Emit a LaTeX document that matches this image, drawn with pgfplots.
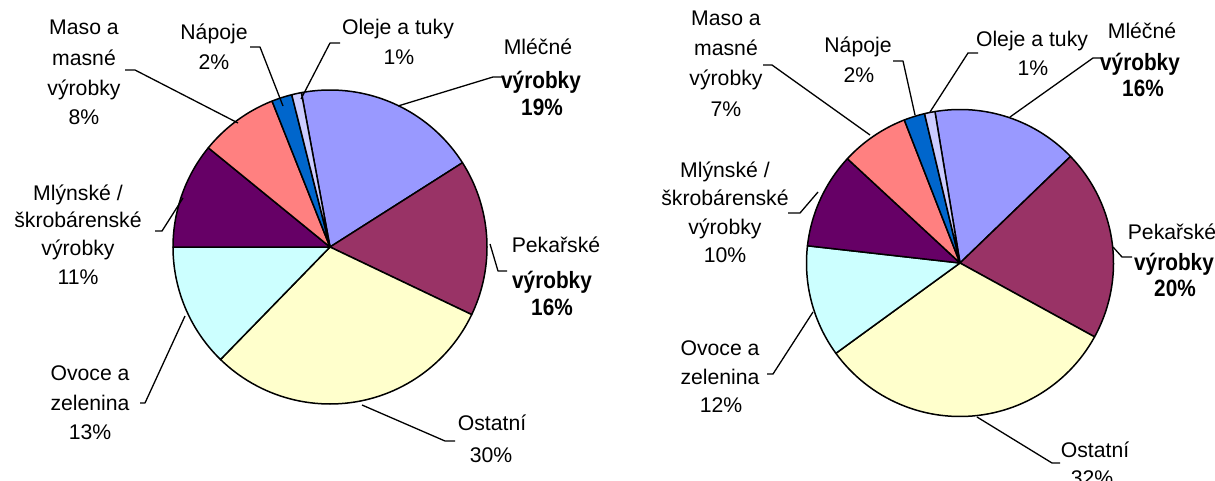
\documentclass[border=0pt]{standalone}
\usepackage{fontspec}
\setmainfont{Liberation Sans}
\newfontfamily\bcond{Liberation Sans}[FakeStretch=0.88]
\usepackage{pgfplots}
\usepackage{pgfplotstable}
\pgfplotsset{compat=1.18}

\definecolor{cMilk}{HTML}{9999FF}
\definecolor{cBakery}{HTML}{993366}
\definecolor{cOther}{HTML}{FFFFCC}
\definecolor{cFruit}{HTML}{CCFFFF}
\definecolor{cMill}{HTML}{660066}
\definecolor{cMeat}{HTML}{FF8080}
\definecolor{cDrinks}{HTML}{0066CC}
\definecolor{cOil}{HTML}{CCCCFF}

% shares in percent, clockwise from the first slice
\pgfplotstableread{
value color
18.9 cMilk
16.1 cBakery
30.2 cOther
12.7 cFruit
10.9 cMill
8.1  cMeat
2.1  cDrinks
1.0  cOil
}\leftdata

\pgfplotstableread{
value color
15.4 cMilk
20.2 cBakery
32.0 cOther
11.8 cFruit
10.1 cMill
7.2  cMeat
2.2  cDrinks
1.1  cOil
}\rightdata

% #1 table, #2 cx, #3 cy, #4 radius, #5 start angle
\newcommand\drawpie[5]{%
  \def\pieCum{0}%
  \pgfplotsforeachungrouped \pieI in {0,...,7}{%
    \pgfplotstablegetelem{\pieI}{value}\of#1\let\pieV\pgfplotsretval
    \pgfplotstablegetelem{\pieI}{color}\of#1\let\pieC\pgfplotsretval
    \pgfmathsetmacro\pieA{#5-3.6*\pieCum}%
    \pgfmathsetmacro\pieCum{\pieCum+\pieV}%
    \pgfmathsetmacro\pieB{#5-3.6*\pieCum}%
    \edef\pieTemp{\noexpand\addplot[draw=black, line width=0.75pt, line join=round, fill=\pieC, domain=\pieB:\pieA, samples=60]
      ({#2+#4*cos(x)},{#3-#4*sin(x)}) -- (axis cs:#2,#3) -- cycle;}%
    \pieTemp
  }%
}

\tikzset{
  lbl/.style={font=\fontsize{10.6}{12}\selectfont, inner sep=0pt, anchor=base, yshift=-3.8pt},
  blbl/.style={font=\bcond\bfseries\fontsize{11.8}{13}\selectfont, inner sep=0pt, anchor=base, yshift=-4.1pt},
}

\begin{document}
\begin{tikzpicture}
\useasboundingbox (0,0) rectangle (607.5pt,240.5pt);
\begin{axis}[
  at={(0,0)}, anchor=south west,
  scale only axis, width=607.5pt, height=240.5pt,
  xmin=0, xmax=1215, ymin=0, ymax=481, y dir=reverse,
  hide axis, clip=false,
  every axis plot/.append style={line join=round},
]
\drawpie{\leftdata}{330}{247}{157}{100.5}
\drawpie{\rightdata}{960}{263}{153.5}{99.4}

% leader lines, left pie
\addplot[black, line width=0.65pt] coordinates {(125,70) (135,70) (238,123)};
\addplot[black, line width=0.65pt] coordinates {(250,47) (260,47) (283,106)};
\addplot[black, line width=0.65pt] coordinates {(340,43) (330,43) (301,99)};
\addplot[black, line width=0.65pt] coordinates {(503,77) (493,77) (398,106)};
\addplot[black, line width=0.65pt] coordinates {(490,244) (498,271) (507,271)};
\addplot[black, line width=0.65pt] coordinates {(362,405) (445,441) (455,441)};
\addplot[black, line width=0.65pt] coordinates {(140,403) (145,403) (185,316)};
\addplot[black, line width=0.65pt] coordinates {(155,231) (162,231) (183,198)};
% leader lines, right pie
\addplot[black, line width=0.65pt] coordinates {(763,65) (772,65) (870,135)};
\addplot[black, line width=0.65pt] coordinates {(893,61) (903,61) (915,115)};
\addplot[black, line width=0.65pt] coordinates {(978,53) (968,53) (930,112)};
\addplot[black, line width=0.65pt] coordinates {(1103,58) (1093,58) (1010,117)};
\addplot[black, line width=0.65pt] coordinates {(1113,247) (1122,257) (1132,257)};
\addplot[black, line width=0.65pt] coordinates {(977,417) (1052,463) (1060,463)};
\addplot[black, line width=0.65pt] coordinates {(767,374) (773,374) (813,312)};
\addplot[black, line width=0.65pt] coordinates {(788,213) (800,213) (818,192)};

% labels, left pie
\node[lbl] at (axis cs:84,27) {Maso a};
\node[lbl] at (axis cs:84,58) {masné};
\node[lbl] at (axis cs:84,88) {výrobky};
\node[lbl] at (axis cs:84,117) {8\%};
\node[lbl] at (axis cs:214,32) {Nápoje};
\node[lbl] at (axis cs:214,62) {2\%};
\node[lbl] at (axis cs:398,27) {Oleje a tuky};
\node[lbl] at (axis cs:399,57) {1\%};
\node[lbl] at (axis cs:538,47) {Mléčné};
\node[blbl] at (axis cs:541,80) {výrobky};
\node[blbl] at (axis cs:542,107) {19\%};
\node[lbl] at (axis cs:556,245) {Pekařské};
\node[blbl] at (axis cs:552,280) {výrobky};
\node[blbl] at (axis cs:552,307) {16\%};
\node[lbl] at (axis cs:492,423) {Ostatní};
\node[lbl] at (axis cs:491,455) {30\%};
\node[lbl] at (axis cs:90,373) {Ovoce a};
\node[lbl] at (axis cs:90,403) {zelenina};
\node[lbl] at (axis cs:90,432) {13\%};
\node[lbl] at (axis cs:78,193) {Mlýnské /};
\node[lbl] at (axis cs:78,220) {škrobárenské};
\node[lbl] at (axis cs:78,248) {výrobky};
\node[lbl] at (axis cs:78,277) {11\%};

% labels, right pie
\node[lbl] at (axis cs:726,18) {Maso a};
\node[lbl] at (axis cs:726,48) {masné};
\node[lbl] at (axis cs:726,78) {výrobky};
\node[lbl] at (axis cs:726,109) {7\%};
\node[lbl] at (axis cs:858,45) {Nápoje};
\node[lbl] at (axis cs:859,75) {2\%};
\node[lbl] at (axis cs:1032,39) {Oleje a tuky};
\node[lbl] at (axis cs:1033,68) {1\%};
\node[lbl] at (axis cs:1142,31) {Mléčné};
\node[blbl] at (axis cs:1140,62) {výrobky};
\node[blbl] at (axis cs:1143,88) {16\%};
\node[lbl] at (axis cs:1172,232) {Pekařské};
\node[blbl] at (axis cs:1174,262) {výrobky};
\node[blbl] at (axis cs:1175,288) {20\%};
\node[lbl] at (axis cs:1095,450) {Ostatní};
\node[lbl] at (axis cs:1092,478) {32\%};
\node[lbl] at (axis cs:720,348) {Ovoce a};
\node[lbl] at (axis cs:720,377) {zelenina};
\node[lbl] at (axis cs:721,405) {12\%};
\node[lbl] at (axis cs:725,170) {Mlýnské /};
\node[lbl] at (axis cs:725,198) {škrobárenské};
\node[lbl] at (axis cs:725,227) {výrobky};
\node[lbl] at (axis cs:725,255) {10\%};
\end{axis}
\end{tikzpicture}
\end{document}
